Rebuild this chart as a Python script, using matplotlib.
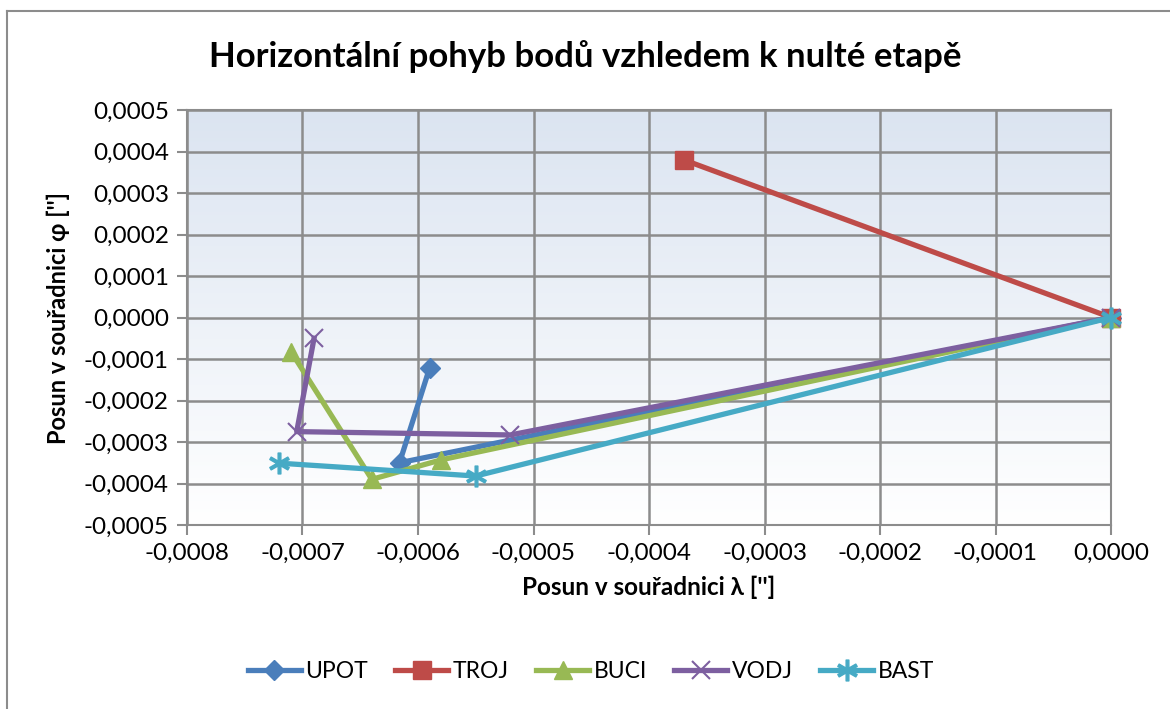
import matplotlib.pyplot as plt
import numpy as np
from matplotlib.lines import Line2D
from matplotlib.ticker import FuncFormatter, MultipleLocator

plt.rcParams["font.family"] = ["Lato", "DejaVu Sans"]
plt.rcParams["axes.unicode_minus"] = False

# posuny bodů (λ, φ) v jednotlivých etapách
upot_x = [0.0, -0.000616, -0.00059]
upot_y = [0.0, -0.00035, -0.000122]
troj_x = [0.0, -0.00037]
troj_y = [0.0, 0.00038]
buci_x = [0.0, -0.00058, -0.00064, -0.00071]
buci_y = [0.0, -0.000343, -0.00039, -0.000082]
vodj_x = [0.0, -0.00052, -0.000705, -0.00069]
vodj_y = [0.0, -0.000283, -0.000275, -0.00005]
bast_x = [0.0, -0.00055, -0.00072]
bast_y = [0.0, -0.000382, -0.000351]

series = [
    ("UPOT", upot_x, upot_y, "#4a7ebb", "D", 10),
    ("TROJ", troj_x, troj_y, "#be4b48", "s", 13),
    ("BUCI", buci_x, buci_y, "#98b954", "^", 13),
    ("VODJ", vodj_x, vodj_y, "#7d5fa0", "x", 13),
    ("BAST", bast_x, bast_y, "#46aac5", "$\u2217$", 15),
]

fig = plt.figure(figsize=(11.7, 7.09), dpi=100)
W, H = 1170, 709
ax = fig.add_axes([187 / W, 1 - 525 / H, (1111 - 187) / W, (525 - 110) / H])

# rámeček grafu
fig.add_artist(Line2D([7 / W, 7 / W], [1 - 11 / H, 0], color="#8c8c8c", lw=1.5))
fig.add_artist(Line2D([7 / W, 1], [1 - 11 / H, 1 - 11 / H], color="#8c8c8c", lw=1.5))

# přechod pozadí
grad = np.linspace(0, 1, 256).reshape(-1, 1)
top = np.array([0.86, 0.895, 0.945])
bot = np.array([1.0, 1.0, 1.0])
img = top[None, None, :] * (1 - grad[..., None]) + bot[None, None, :] * grad[..., None]
ax.imshow(img, extent=[0, 1, 0, 1], transform=ax.transAxes, aspect="auto", zorder=0)

for name, xs, ys, col, mk, ms in series:
    mew = 1.5 if mk == "x" else 1.0
    ax.plot(xs, ys, color=col, lw=3.8, marker=mk, ms=ms, mew=mew, mec=col, mfc=col,
            label=name, zorder=3, clip_on=False)

ax.set_xlim(-0.0008, 0.0)
ax.set_ylim(-0.0005, 0.0005)
ax.xaxis.set_major_locator(MultipleLocator(0.0001))
ax.yaxis.set_major_locator(MultipleLocator(0.0001))
fmt = FuncFormatter(lambda v, p: f"{v:.4f}".replace(".", ",").replace("-0,0000", "0,0000"))
ax.xaxis.set_major_formatter(fmt)
ax.yaxis.set_major_formatter(fmt)
ax.grid(True, color="#8c8c8c", lw=1.8, zorder=1)
ax.set_axisbelow(True)
for s in ax.spines.values():
    s.set_color("#8c8c8c")
    s.set_linewidth(1.5)
ax.tick_params(direction="out", length=7, width=1.5, color="#8c8c8c", labelsize=17.5, pad=6)

ax.set_xlabel("Posun v souřadnici λ ['']", fontsize=17.5, fontweight="bold", labelpad=8)
ax.set_ylabel("Posun v souřadnici φ ['']", fontsize=17, fontweight="bold", labelpad=10)
fig.text(0.5, 1 - 57 / H, "Horizontální pohyb bodů vzhledem k nulté etapě",
         ha="center", va="center", fontsize=25, fontweight="bold")

fig.legend(loc="center", bbox_to_anchor=(0.505, 1 - 672 / H), ncol=5, frameon=False,
           fontsize=16.5, handlelength=2.3, columnspacing=1.2, handletextpad=0.2)

fig.savefig("out.png", dpi=100)
